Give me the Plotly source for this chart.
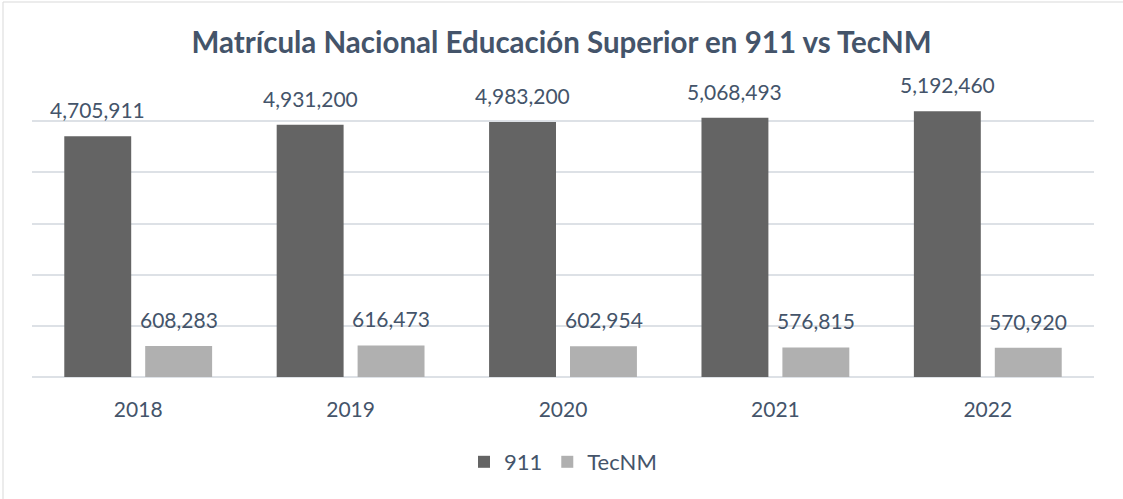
import plotly.graph_objects as go

years = ["2018", "2019", "2020", "2021", "2022"]
matricula_911 = [4705911, 4931200, 4983200, 5068493, 5192460]
matricula_tecnm = [608283, 616473, 602954, 576815, 570920]
series_names = ["911", "TecNM"]
title_text = "Matrícula Nacional Educación Superior en 911 vs TecNM"
gridline_values = [0, 1000000, 2000000, 3000000, 4000000, 5000000]

TEXT_COLOR = "#44546A"
FONT = "Lato"

fig = go.Figure()
fig.add_trace(go.Bar(
    x=years, y=matricula_911, name=series_names[0],
    marker=dict(color="#646464", line=dict(width=0)),
))
fig.add_trace(go.Bar(
    x=years, y=matricula_tecnm, name=series_names[1],
    marker=dict(color="#B0B0B0", line=dict(width=0)),
))

annotations = []
for i in range(len(years)):
    for vals, shift in ((matricula_911, -40.5), (matricula_tecnm, 40.5)):
        annotations.append(dict(
            x=i, y=vals[i], xref="x", yref="y", xshift=shift, yshift=12,
            text=f"{vals[i]:,}", showarrow=False, yanchor="bottom", xanchor="center",
            font=dict(family=FONT, size=21, color=TEXT_COLOR),
        ))

plot_top, plot_bottom, H = 70, 377, 499
ph = plot_bottom - plot_top
fig.update_layout(
    width=1123, height=499,
    margin=dict(l=32, r=29, t=plot_top, b=H - plot_bottom, pad=0),
    paper_bgcolor="white", plot_bgcolor="white",
    title=dict(text=f"<b>{title_text}</b>", x=0.5, xanchor="center",
               y=1 - 43 / H, yanchor="middle",
               font=dict(family=FONT, size=29.5, color=TEXT_COLOR)),
    barmode="group", bargap=0.238, bargroupgap=0.173,
    showlegend=True,
    legend=dict(orientation="h", x=0.5, xanchor="center", y=-(462 - plot_bottom) / ph,
                yanchor="middle", font=dict(family=FONT, size=22, color=TEXT_COLOR),
                itemwidth=30, traceorder="normal"),
    xaxis=dict(type="category", range=[-0.5, len(years) - 0.5], showline=False,
               ticks="", showgrid=False,
               tickfont=dict(family=FONT, size=21, color=TEXT_COLOR)),
    yaxis=dict(range=[0, 6000000], tickvals=gridline_values, showticklabels=False,
               showgrid=True, gridcolor="#DDE1E6", gridwidth=1.5, zeroline=True,
               zerolinecolor="#DDE1E6", zerolinewidth=1.5, showline=False),
    annotations=annotations,
    font=dict(family=FONT),
)
fig.update_xaxes(ticklabelstandoff=18)
pw = 1123 - 32 - 29
fig.add_shape(type="rect", xref="paper", yref="paper",
              x0=-(32 - 3) / pw, x1=(1123 + 10 - 32) / pw,
              y0=-(H + 10 - plot_bottom) / ph, y1=1 + (plot_top - 2) / ph,
              line=dict(color="#D9D9D9", width=1), layer="below")

fig.write_html("out.html", config={"displayModeBar": False},
               post_script="document.body.style.margin='0';document.body.style.overflow='hidden';")
